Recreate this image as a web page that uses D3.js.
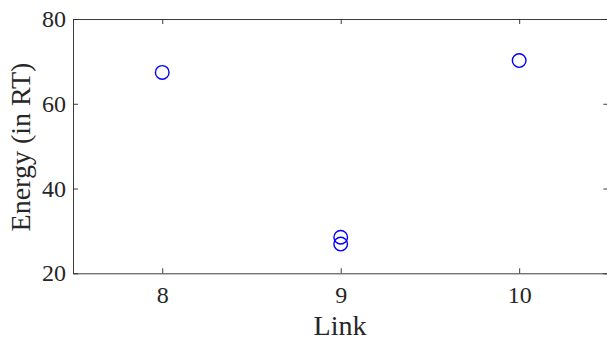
<!DOCTYPE html>
<html>
<head>
<meta charset="utf-8">
<script src="https://cdn.jsdelivr.net/npm/d3@7"></script>
<style>
  html, body { margin: 0; padding: 0; background: #fff; }
  svg { display: block; }
</style>
</head>
<body>
<div id="chart"></div>
<script>
// data
const links = [8, 9, 9, 10];
const energies = [67.4, 28.5, 26.9, 70.2];
const xTicks = [8, 9, 10];
const yTicks = [20, 40, 60, 80];
const xLabel = "Link";
const yLabel = "Energy (in RT)";

function drawChart() {
    let width = 607;
    let height = 339;
    let left = 73, right = 608.4, top = 19, bottom = 273.3;
    let font = "'Liberation Serif', 'Times New Roman', serif";

    let svg = d3.select("#chart")
        .append("svg")
        .attr("width", width)
        .attr("height", height);

    let x = d3.scaleLinear().domain([7.5, 10.5]).range([left, right]);
    let y = d3.scaleLinear().domain([20, 80]).range([bottom, top]);

    let axisColor = "#262626";
    let tickLen = 5;

    function styleAxis(g) {
        g.select(".domain").attr("stroke", axisColor).attr("stroke-width", 0.9);
        g.selectAll(".tick line").attr("stroke", axisColor).attr("stroke-width", 0.9);
        g.selectAll(".tick text")
            .style("font-family", font)
            .style("font-size", "24px")
            .attr("fill", axisColor);
    }

    // bottom + left axes, ticks point inward
    svg.append("g")
        .attr("transform", "translate(0," + bottom + ")")
        .call(d3.axisBottom(x).tickValues(xTicks).tickFormat(d3.format("d")).tickSizeInner(-tickLen).tickSizeOuter(0))
        .call(styleAxis)
        .call(g => g.selectAll(".tick text").attr("y", 29.5).attr("dy", null));

    svg.append("g")
        .attr("transform", "translate(" + left + ",0)")
        .call(d3.axisLeft(y).tickValues(yTicks).tickSizeInner(-tickLen).tickSizeOuter(0))
        .call(styleAxis)
        .call(g => g.selectAll(".tick text").attr("x", -7));

    // top + right box lines
    svg.append("g")
        .attr("transform", "translate(0," + top + ")")
        .call(d3.axisTop(x).tickValues(xTicks).tickSizeInner(-tickLen).tickSizeOuter(0).tickFormat(""))
        .call(styleAxis);

    svg.append("g")
        .attr("transform", "translate(" + right + ",0)")
        .call(d3.axisRight(y).tickValues(yTicks).tickSizeInner(-tickLen).tickSizeOuter(0).tickFormat(""))
        .call(styleAxis);

    // markers
    let points = links.map((l, i) => ({ link: l, energy: energies[i] }));
    svg.selectAll(".pt")
        .data(points)
        .enter()
        .append("circle")
        .attr("class", "pt")
        .attr("cx", d => x(d.link))
        .attr("cy", d => y(d.energy))
        .attr("r", 6.8)
        .attr("fill", "none")
        .attr("stroke", "#0000ff")
        .attr("stroke-width", 1.4);

    // axis labels
    svg.append("text")
        .attr("x", 340)
        .attr("y", 334.5)
        .attr("text-anchor", "middle")
        .attr("fill", axisColor)
        .style("font-family", font)
        .style("font-size", "28px")
        .text(xLabel);

    svg.append("text")
        .attr("transform", "translate(30," + 147 + ") rotate(-90)")
        .attr("text-anchor", "middle")
        .attr("fill", axisColor)
        .style("font-family", font)
        .style("font-size", "28px")
        .text(yLabel);
}

window.onload = () => {
    drawChart();
}
</script>
</body>
</html>
